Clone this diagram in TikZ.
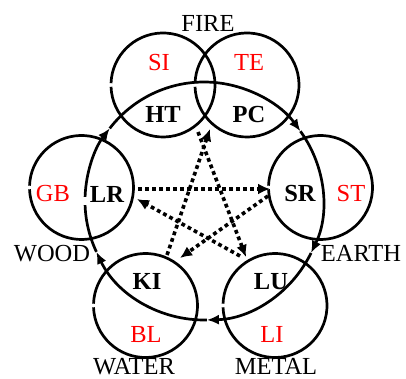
\documentclass[tikz,border=0pt]{standalone}
\usepackage{fontspec}
\setmainfont{Liberation Serif}
\usetikzlibrary{arrows.meta}
\begin{document}
\begin{tikzpicture}[x=1pt,y=1pt,
  lab/.style={font=\fontsize{24.5}{29}\selectfont, inner sep=0pt, anchor=base},
  org/.style={lab, font=\fontsize{24.5}{29}\selectfont\bfseries},
  red/.style={lab, text=red},
  ring/.style={line width=2.7pt},
  flow/.style={line width=2.7pt, -{Latex[length=12pt,width=10pt]}},
  ctrl/.style={line width=3.6pt, dash pattern=on 3.8pt off 3.2pt, -{Latex[length=12pt,width=11pt]}}]
\useasboundingbox (0,0) rectangle (406,379);
% centres
\coordinate (cSI) at (163,294);
\coordinate (cTE) at (247,294);
\coordinate (cLR) at (81.5,191.5);
\coordinate (cSR) at (320.5,191.5);
\coordinate (cKI) at (145.5,73.5);
\coordinate (cLU) at (275,73.5);
\coordinate (cB) at (204,178);
% small circles with a gap on the left
\foreach \c in {cSI,cTE,cLR,cSR,cKI,cLU}
  \draw[ring] ([shift={(182:52)}]\c) arc[start angle=182, end angle=538, radius=52];
% big generating circle
\draw[flow] ([shift={(271.4:119)}]cB) arc[start angle=271.4, end angle=205.3, radius=119];
\draw[ring] ([shift={(205.3:119)}]cB) arc[start angle=205.3, end angle=182, radius=119];
\draw[flow] ([shift={(178:119)}]cB) arc[start angle=178, end angle=142.4, radius=119];
\draw[flow] ([shift={(142.4:119)}]cB) arc[start angle=142.4, end angle=35.9, radius=119];
\draw[flow] ([shift={(35.9:119)}]cB) arc[start angle=35.9, end angle=-25.9, radius=119];
\draw[flow] ([shift={(-25.9:119)}]cB) arc[start angle=-25.9, end angle=-88.6, radius=119];
% controlling star
\coordinate (d1s) at (138,190); \coordinate (d1e) at (270,190);
\coordinate (d2s) at (268,183); \coordinate (d2e) at (180,121);
\coordinate (d3s) at (167,124); \coordinate (d3e) at (210,250);
\coordinate (d4s) at (198,247); \coordinate (d4e) at (246,122);
\coordinate (d5s) at (240,123); \coordinate (d5e) at (137,180);
\draw[ctrl] (d1s) -- (d1e);
\draw[ctrl] (d2s) -- (d2e);
\draw[ctrl] (d3s) -- (d3e);
\draw[ctrl] (d4s) -- (d4e);
\draw[ctrl] (d5s) -- (d5e);
% labels
\node[lab] (fire) at (208,347) {FIRE};
\node[red] (si) at (159,308) {SI};
\node[red] (te) at (249,308) {TE};
\node[org] (ht) at (163,256) {HT};
\node[org] (pc) at (249,256) {PC};
\node[red] (gb) at (53,177) {GB};
\node[org] (lr) at (107,176) {LR};
\node[org] (sr) at (300,177) {SR};
\node[red] (st) at (351,177) {ST};
\node[lab] (wood) at (52,117) {WOOD};
\node[lab] (earth) at (361,117) {EARTH};
\node[org] (ki) at (147,89) {KI};
\node[org] (lu) at (271,89) {LU};
\node[red] (bl) at (146,36) {BL};
\node[red] (li) at (272,36) {LI};
\node[lab, text depth=0pt] (water) at (134,4) {WATER};
\node[lab, text depth=0pt] (metal) at (276,4) {METAL};
\end{tikzpicture}
\end{document}
